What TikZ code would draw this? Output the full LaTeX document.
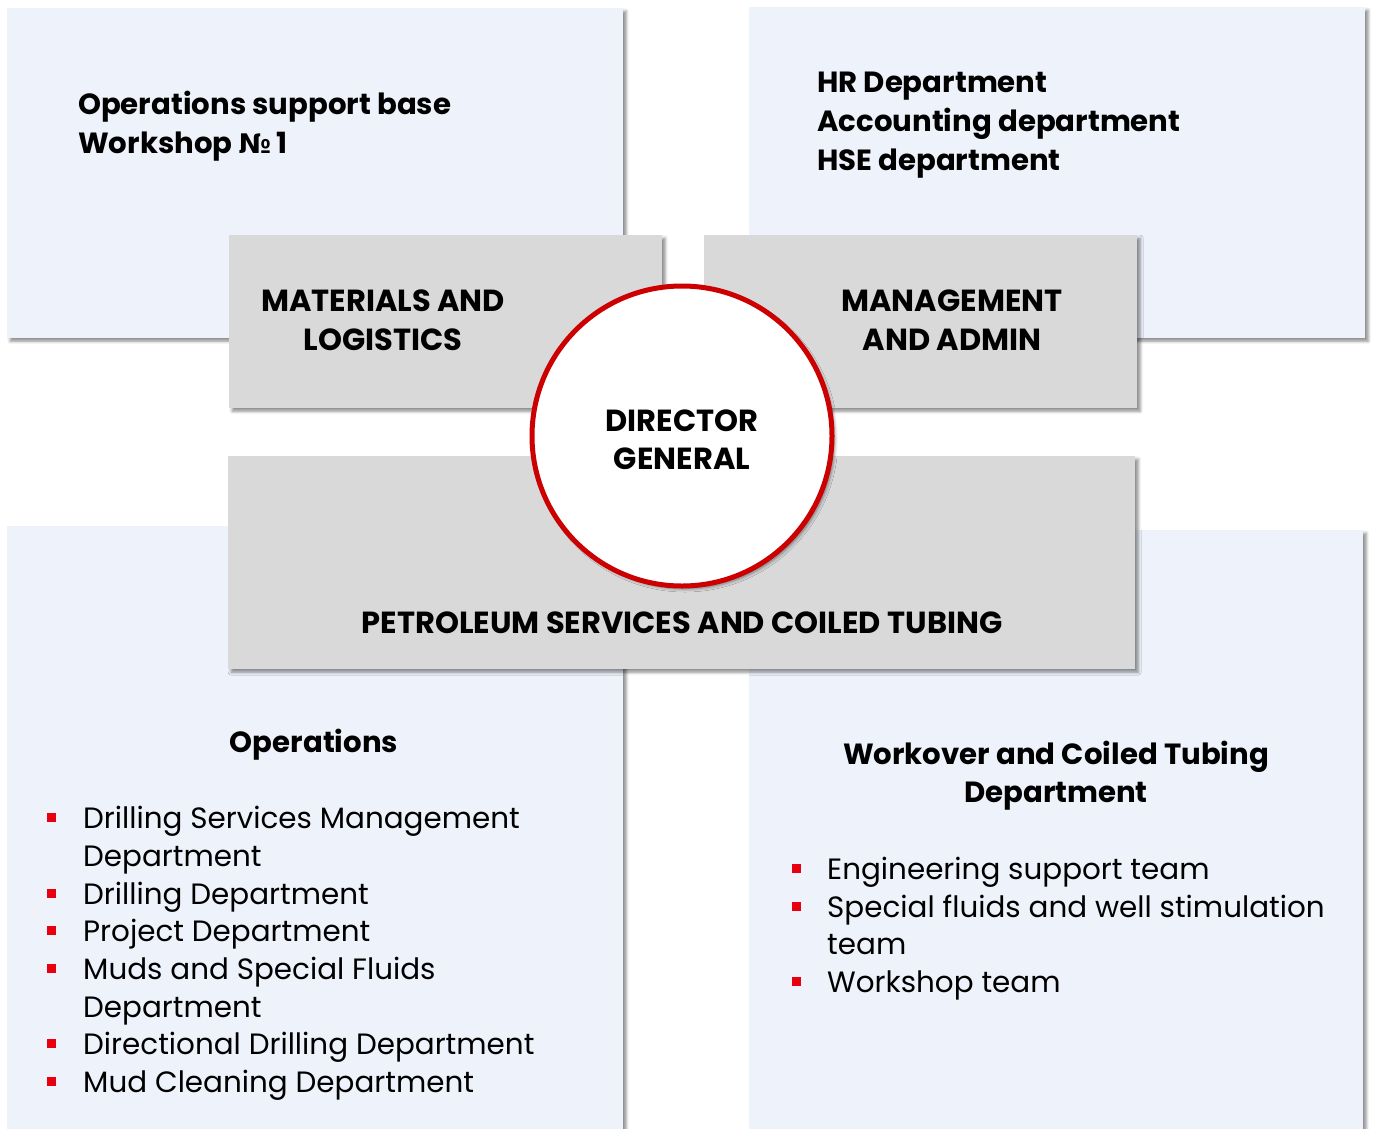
\documentclass[tikz,border=0pt]{standalone}
\usepackage{fontspec}
\setmainfont{Poppins}
\newfontfamily\symfont{DejaVu Sans}
\usetikzlibrary{shadows.blur}
\definecolor{bluebg}{HTML}{EEF3FB}
\definecolor{graybg}{HTML}{D9D9D9}
\definecolor{redring}{HTML}{CC0000}
\definecolor{bulletred}{HTML}{E8000E}
\tikzset{
  shad/.style={blur shadow={shadow xshift=3pt,shadow yshift=-3pt,shadow blur radius=3pt,shadow opacity=45}},
  bluebox/.style={fill=bluebg,shad,draw=none,inner sep=0pt,anchor=north west},
  graybox/.style={fill=graybg,shad,draw=none,inner sep=0pt,anchor=north west},
  hdr/.style={font=\fontsize{29.2}{32}\selectfont\bfseries,inner sep=0pt},
  caps/.style={font=\fontsize{30.5}{32}\selectfont\bfseries,inner sep=0pt,anchor=base},
  item/.style={font=\fontsize{29.4}{32}\selectfont,inner sep=0pt,anchor=base west},
  bul/.style={fill=bulletred,minimum width=9pt,minimum height=9pt,inner sep=0pt}
}
\begin{document}
\begin{tikzpicture}[x=1pt,y=-1pt]
\useasboundingbox (0,0) rectangle (1373,1128);
% blue quadrants
\node[bluebox,minimum width=616pt,minimum height=330pt] (qtl) at (7,8) {};
\node[bluebox,minimum width=616pt,minimum height=331pt] (qtr) at (749,7) {};
\node[bluebox,minimum width=616pt,minimum height=620pt] (qbl) at (7,526) {};
\node[bluebox,minimum width=614pt,minimum height=620pt] (qbr) at (749,530) {};
% gray boxes
\node[graybox,minimum width=433pt,minimum height=173pt] (mat) at (229,235) {};
\node[graybox,minimum width=433pt,minimum height=173pt] (mgmt) at (704,235) {};
\node[graybox,minimum width=907pt,minimum height=213pt] (pet) at (228,456) {};
% circle
\node[circle,fill=white,draw=redring,line width=5pt,minimum size=300pt,shad] (dg) at (682,436) {};
% texts
\node[hdr,anchor=base west] (t1) at (78,114) {Operations support base};
\node[hdr,anchor=base west] (t2) at (78,153) {Workshop {\symfont\bfseries\fontsize{27}{32}\selectfont №}\,1};
\node[hdr,anchor=base west] (t3) at (817,92) {HR Department};
\node[hdr,anchor=base west] (t4) at (817,131) {Accounting department};
\node[hdr,anchor=base west] (t5) at (817,170) {HSE department};
\node[caps] (m1) at (383,311) {MATERIALS AND};
\node[caps] (m2) at (383,350) {LOGISTICS};
\node[caps] (g1) at (952,311) {MANAGEMENT};
\node[caps] (g2) at (952,350) {AND ADMIN};
\node[caps] (d1) at (682,431) {DIRECTOR};
\node[caps] (d2) at (682,469) {GENERAL};
\node[caps] (p1) at (682,633) {PETROLEUM SERVICES AND COILED TUBING};
\node[hdr,anchor=base] (o1) at (314,752) {Operations};
\node[hdr,anchor=base] (w1) at (1056,764) {Workover and Coiled Tubing};
\node[hdr,anchor=base] (w2) at (1056,802) {Department};
% left list
\node[item] (l1) at (83,828) {Drilling Services Management};
\node[item] (l2) at (83,866) {Department};
\node[item] (l3) at (83,904) {Drilling Department};
\node[item] (l4) at (83,941) {Project Department};
\node[item] (l5) at (83,979) {Muds and Special Fluids};
\node[item] (l6) at (83,1017) {Department};
\node[item] (l7) at (83,1054) {Directional Drilling Department};
\node[item] (l8) at (83,1092) {Mud Cleaning Department};
\node[bul] (b1) at (51,817) {};
\node[bul] (b3) at (51,893) {};
\node[bul] (b4) at (51,930) {};
\node[bul] (b5) at (51,968) {};
\node[bul] (b7) at (51,1043) {};
\node[bul] (b8) at (51,1081) {};
% right list
\node[item] (r1) at (827,879) {Engineering support team};
\node[item] (r2) at (827,917) {Special fluids and well stimulation};
\node[item] (r3) at (827,954) {team};
\node[item] (r4) at (827,992) {Workshop team};
\node[bul] (rb1) at (796,868) {};
\node[bul] (rb2) at (796,906) {};
\node[bul] (rb4) at (796,981) {};
\end{tikzpicture}
\end{document}
